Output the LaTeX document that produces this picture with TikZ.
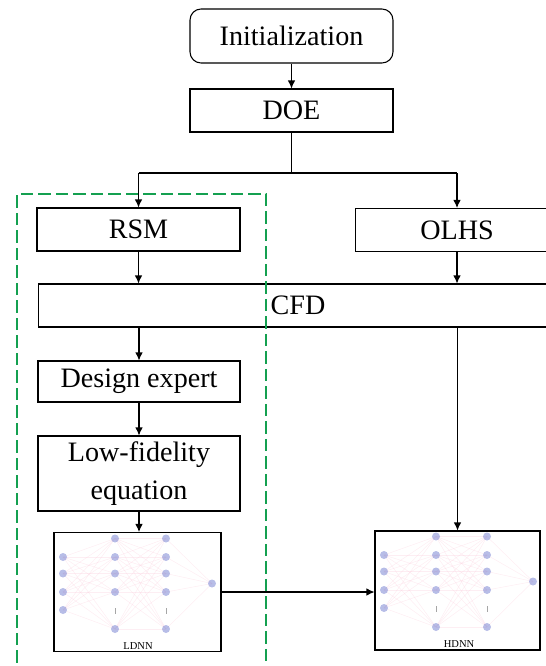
\documentclass[tikz,border=0pt]{standalone}
\usepackage{fontspec}
\setmainfont{Liberation Serif}
\usetikzlibrary{arrows.meta}

\definecolor{boxgreen}{RGB}{20,160,80}
\definecolor{netdot}{RGB}{135,145,215}
\definecolor{netline}{RGB}{250,205,220}

\tikzset{
  stagebox/.style={draw, line width=0.6pt, minimum width=4.06cm, inner sep=0pt,
    font=\fontsize{16}{19}\selectfont},
  netbox/.style={draw, line width=0.6pt, minimum width=3.34cm, minimum height=2.38cm},
  flow/.style={-{Latex[length=1.6mm,width=1.5mm]}, line width=0.6pt},
  neuron/.style={fill=netdot, draw=none, opacity=0.6},
  synapse/.style={netline, line width=0.3pt, opacity=0.35},
}

% small network sketch, (0,0) is the top left corner of its frame
\newcommand{\netsketch}[1]{%
  \foreach \i in {24,40.5,59,77}
    \foreach \j in {5.5,24,40.5,59,96}
      \draw[synapse] (9,\i) -- (61,\j);
  \foreach \i in {5.5,24,40.5,59,96}
    \foreach \j in {5.5,24,40.5,59,96}
      \draw[synapse] (61,\i) -- (112,\j);
  \foreach \i in {5.5,24,40.5,59,96}
    \draw[synapse] (112,\i) -- (158,50.5);
  \foreach \i in {24,40.5,59,77}
    \fill[neuron] (9,\i) circle (4);
  \foreach \x in {61,112} {
    \foreach \i in {5.5,24,40.5,59,96}
      \fill[neuron] (\x,\i) circle (4);
    \draw[gray!70, line width=0.4pt] (\x,75) -- (\x,81);
  }
  \fill[neuron] (158,50.5) circle (4);
  \node[font=\fontsize{6}{7}\selectfont, inner sep=0pt] at (84,113) {#1};
}

\begin{document}
\begin{tikzpicture}[x=0.02cm, y=-0.02cm]
\useasboundingbox (0,0) rectangle (546,666);
\clip (0,0) rectangle (546,666);

% top of the flow
\node[stagebox, rounded corners=0.22cm, minimum height=1.08cm] (init) at (291.5,36) {Initialization};
\node[stagebox, minimum height=0.86cm] (doe) at (291.5,110.5) {DOE};
\coordinate (split) at (291.5,173);

% two branches
\node[stagebox, minimum height=0.86cm] (rsm) at (138.5,229.5) {RSM};
\node[stagebox, minimum height=0.86cm] (olhs) at (457,230) {OLHS};
\node[stagebox, minimum width=10.4cm, minimum height=0.86cm] (cfd) at (298,305.5) {CFD};

% low fidelity side
\node[stagebox, minimum width=4.04cm, minimum height=0.82cm] (design) at (139,381.5) {Design expert};
\node[stagebox, minimum width=4.04cm, minimum height=1.5cm, align=center,
  font=\fontsize{16}{22}\selectfont] (lowfi) at (139,473.5) {Low-fidelity\\equation};

% networks
\begin{scope}[shift={(54,533)}]
\netsketch{LDNN}
\end{scope}
\begin{scope}[shift={(375,531)}]
\netsketch{HDNN}
\end{scope}
\node[netbox] (ldnn) at (137.5,592) {};
\node[netbox, minimum width=3.3cm] (hdnn) at (457.5,590.5) {};

% dashed frame round the RSM branch
\draw[boxgreen, line width=1.3pt, dash pattern=on 0.25cm off 0.1cm] (17,680) -- (17,194) -- (266,194) -- (266,680);

% connectors
\draw[flow] (init) -- (doe);
\draw[line width=0.6pt] (doe.south) -- (split);
\draw[line width=0.6pt] (rsm.north |- split) -- (olhs.north |- split);
\draw[flow] (rsm.north |- split) -- (rsm.north);
\draw[flow] (olhs.north |- split) -- (olhs.north);
\draw[flow] (rsm.south) -- (rsm.south |- cfd.north);
\draw[flow] (olhs.south) -- (olhs.south |- cfd.north);
\draw[flow] (design.north |- cfd.south) -- (design.north);
\draw[flow] (design) -- (lowfi);
\draw[flow] (lowfi.south) -- (lowfi.south |- ldnn.north);
\draw[flow] (hdnn.north |- cfd.south) -- (hdnn.north);
\draw[flow] (ldnn.east) -- (ldnn.east -| hdnn.west);
\end{tikzpicture}
\end{document}
